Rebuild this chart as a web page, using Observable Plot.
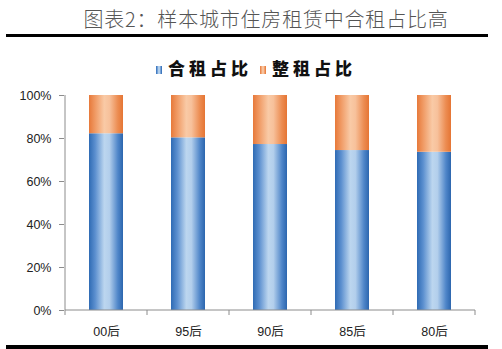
<!DOCTYPE html>
<html><head><meta charset="utf-8">
<script src="https://cdn.jsdelivr.net/npm/d3@7"></script>
<script src="https://cdn.jsdelivr.net/npm/@observablehq/plot@0.6"></script>
<style>
html,body{margin:0;padding:0;background:#fff;}
#wrap{position:relative;width:502px;height:349px;overflow:hidden;font-family:"Liberation Sans","Noto Sans CJK SC",sans-serif;}
#title{position:absolute;left:0;width:532px;top:5px;text-align:center;font-family:"Noto Sans CJK SC",sans-serif;font-weight:300;font-size:20px;letter-spacing:0.8px;color:#555;line-height:28px;}
#rule1{position:absolute;left:6px;width:482px;top:34px;height:3px;background:#000;}
#rule2{position:absolute;left:6px;width:482px;top:345px;height:4px;background:#000;}
#legend{position:absolute;left:0;width:512px;top:56px;text-align:center;font-family:"Noto Sans CJK SC",sans-serif;font-weight:900;font-size:17px;letter-spacing:4px;color:#111;line-height:24px;}
#legend span.sw{display:inline-block;width:6px;height:8px;margin-right:6px;vertical-align:1px;}
#legend span.item{margin:0 4px;}
#chart{position:absolute;left:0;top:80px;}
</style></head>
<body><div id="wrap">
<div id="title"></div>
<div id="rule1"></div>
<div id="legend"></div>
<div id="chart"></div>
<div id="rule2"></div>
</div>
<script>
const titleText = "图表2：样本城市住房租赁中合租占比高";
const categories = ["00后", "95后", "90后", "85后", "80后"];
const seriesNames = ["合租占比", "整租占比"];
const sharedShare = [82.2, 80.3, 77.2, 74.4, 73.6];
const wholeShare = [17.8, 19.7, 22.8, 25.6, 26.4];
const yTicks = [0, 20, 40, 60, 80, 100];

document.getElementById("title").textContent = titleText;

const grads = {
  [seriesNames[0]]: {id: "gBlue", stops: [["0%","#2f6bb4"],["18%","#5b8fcf"],["45%","#bcd6ef"],["60%","#b3cfec"],["85%","#4f86c9"],["100%","#2c66ae"]]},
  [seriesNames[1]]: {id: "gOrange", stops: [["0%","#e7793a"],["18%","#f09a64"],["45%","#f9caa6"],["60%","#f7c19b"],["85%","#ec8c51"],["100%","#e57534"]]}
};

const legend = document.getElementById("legend");
seriesNames.forEach(s => {
  const g = grads[s];
  const css = "linear-gradient(to right," + g.stops.map(d => d[1] + " " + d[0]).join(",") + ")";
  const item = document.createElement("span");
  item.className = "item";
  item.innerHTML = `<span class="sw" style="background:${css}"></span>${s}`;
  legend.appendChild(item);
});

const data = [];
categories.forEach((c, i) => {
  data.push({cat: c, series: seriesNames[0], value: sharedShare[i]});
  data.push({cat: c, series: seriesNames[1], value: wholeShare[i]});
});

const defsMark = () => {
  const ns = "http://www.w3.org/2000/svg";
  const defs = document.createElementNS(ns, "defs");
  Object.values(grads).forEach(g => {
    const lg = document.createElementNS(ns, "linearGradient");
    lg.setAttribute("id", g.id);
    lg.setAttribute("x1", "0"); lg.setAttribute("x2", "1");
    lg.setAttribute("y1", "0"); lg.setAttribute("y2", "0");
    g.stops.forEach(([o, c]) => {
      const st = document.createElementNS(ns, "stop");
      st.setAttribute("offset", o);
      st.setAttribute("stop-color", c);
      lg.appendChild(st);
    });
    defs.appendChild(lg);
  });
  return defs;
};

// axis lines and boundary tick marks on the category axis
const axisLines = (index, scales, values, dims) => {
  const ns = "http://www.w3.org/2000/svg";
  const g = document.createElementNS(ns, "g");
  const x = scales.x;
  const step = (typeof x.step === "function") ? x.step() : (dims.width - dims.marginLeft - dims.marginRight) / categories.length;
  const bw = (typeof x.bandwidth === "function") ? x.bandwidth() : 0;
  const y0 = scales.y(0), y1 = scales.y(100);
  const pos = categories.map(c => x(c) + bw / 2 - step / 2);
  pos.push(x(categories[categories.length - 1]) + bw / 2 + step / 2);
  const line = (a, b, c, d) => {
    const l = document.createElementNS(ns, "line");
    l.setAttribute("x1", a); l.setAttribute("y1", b);
    l.setAttribute("x2", c); l.setAttribute("y2", d);
    l.setAttribute("stroke", "#8c8c8c");
    l.setAttribute("stroke-width", "1");
    g.appendChild(l);
  };
  pos.forEach(p => line(p, y0, p, y0 + 5));
  line(pos[0], y0, pos[pos.length - 1], y0);
  line(pos[0], y0, pos[0], y1);
  return g;
};

const chart = Plot.plot({
  width: 502,
  height: 265,
  marginTop: 15,
  marginBottom: 35,
  marginLeft: 64,
  marginRight: 27,
  style: {fontFamily: '"Liberation Sans","Noto Sans CJK SC",sans-serif', fontSize: "12.5px", color: "#222", background: "transparent"},
  x: {domain: categories, paddingInner: 0.586, paddingOuter: 0.293, label: null},
  y: {domain: [0, 100], label: null},
  color: {domain: seriesNames, range: seriesNames.map(s => `url(#${grads[s].id})`)},
  marks: [
    defsMark,
    Plot.barY(data, Plot.stackY({x: "cat", y: "value", fill: "series", order: seriesNames})),
    Plot.axisY({ticks: yTicks, tickFormat: d => d + "%", tickSize: 5, tickPadding: 8, stroke: "#8c8c8c"}),
    Plot.axisX({tickSize: 0, tickPadding: 17}),
    axisLines
  ]
});
document.getElementById("chart").appendChild(chart);
</script>
</body></html>
